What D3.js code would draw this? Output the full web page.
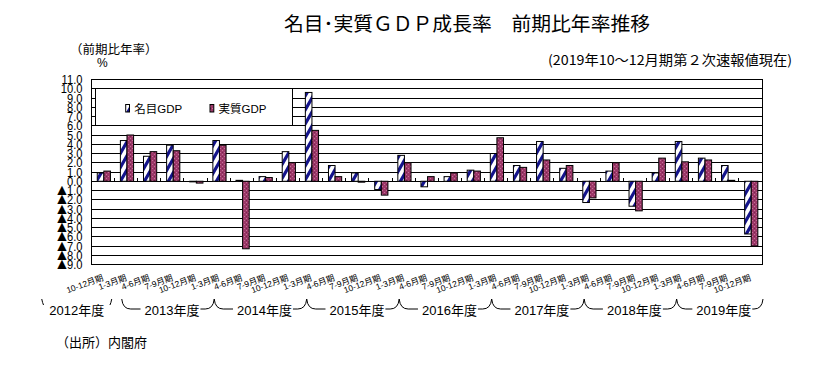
<!DOCTYPE html>
<html><head><meta charset="utf-8">
<script src="https://cdn.jsdelivr.net/npm/d3@7"></script>
<style>body{margin:0;background:#fff}svg{display:block}</style>
</head><body><svg id="c" width="828" height="366"></svg>
<script>
const quarters = ["10-12月期","1-3月期",
  "4-6月期","7-9月期","10-12月期","1-3月期",
  "4-6月期","7-9月期","10-12月期","1-3月期",
  "4-6月期","7-9月期","10-12月期","1-3月期",
  "4-6月期","7-9月期","10-12月期","1-3月期",
  "4-6月期","7-9月期","10-12月期","1-3月期",
  "4-6月期","7-9月期","10-12月期","1-3月期",
  "4-6月期","7-9月期","10-12月期"];
const nominalGDP = [0.9, 4.4, 2.7, 3.9, 0.0, 4.4, 0.1, 0.5, 3.2, 9.6,
  1.7, 0.9, -0.9, 2.8, -0.6, 0.5, 1.2, 3.0, 1.7, 4.3,
  1.4, -2.3, 1.1, -2.7, 0.9, 4.3, 2.5, 1.7, -5.7];
const realGDP = [1.1, 5.0, 3.2, 3.3, -0.2, 3.9, -7.3, 0.4, 2.0, 5.5,
  0.5, -0.1, -1.5, 2.0, 0.5, 0.9, 1.1, 4.7, 1.5, 2.3,
  1.7, -1.8, 2.0, -3.2, 2.5, 2.1, 2.3, 0.1, -7.0];
const yTicks = d3.range(11, -10, -1);
const fiscalYears = ["2012年度","2013年度","2014年度","2015年度","2016年度","2017年度","2018年度","2019年度"];
const fyStart = [0, 2, 6, 10, 14, 18, 22, 26];
const seriesNames = ["名目GDP","実質GDP"];
const titleText = "名目･実質ＧＤＰ成長率　前期比年率推移";
const noteText = "(2019年10～12月期第２次速報値現在)";
const unitText = "（前期比年率）";
const sourceText = "（出所）内閣府";

const svg = d3.select("#c");
const L = 91.5, R = 762, T = 79.5, B = 264.5;
const CJK = "'Noto Sans CJK JP', sans-serif";
const LAT = "'Liberation Sans', 'Noto Sans CJK JP', sans-serif";

const x = d3.scaleBand().domain(d3.range(quarters.length)).range([L, R]).paddingInner(0).paddingOuter(0);
const y = d3.scaleLinear().domain([-9, 11]).range([B, T]);
const step = x.step();

// patterns
const defs = svg.append("defs");
const pn = defs.append("pattern").attr("id","stripe").attr("patternUnits","userSpaceOnUse")
  .attr("width",8).attr("height",14);
pn.append("rect").attr("width",8).attr("height",14).attr("fill","#fff");
pn.append("path").attr("d","M0,14 L8,0 M-2,3.5 L2,-3.5 M6,17.5 L10,10.5")
  .attr("stroke","#14148c").attr("stroke-width",3.2);
const pr = defs.append("pattern").attr("id","speck").attr("patternUnits","userSpaceOnUse")
  .attr("width",4).attr("height",4);
pr.append("rect").attr("width",4).attr("height",4).attr("fill","#9c3868");
pr.append("rect").attr("x",0).attr("y",0).attr("width",1).attr("height",1).attr("fill","#c46f98");
pr.append("rect").attr("x",2).attr("y",2).attr("width",1).attr("height",1).attr("fill","#c46f98");
pr.append("rect").attr("x",2).attr("y",0).attr("width",1).attr("height",1).attr("fill","#7a2450");

// gridlines
svg.append("g").selectAll("line").data(yTicks).join("line")
  .attr("x1", L).attr("x2", R).attr("y1", d => y(d)).attr("y2", d => y(d))
  .attr("stroke", "#000").attr("stroke-width", 1).attr("shape-rendering","crispEdges");

// frame
svg.append("rect").attr("x", L).attr("y", T).attr("width", R - L).attr("height", B - T)
  .attr("fill","none").attr("stroke","#000").attr("shape-rendering","crispEdges");

// y labels
const yl = svg.append("g");
yTicks.forEach(v => {
  const t = yl.append("text").attr("transform", `translate(82.5,${y(v) + 4.6}) scale(0.86,1)`)
    .attr("text-anchor","end").attr("font-family", LAT).attr("font-size", 13).attr("fill","#000");
  if (v < 0) {
    t.append("tspan").attr("font-family", CJK).attr("font-size", 11.5).text("▲");
    t.append("tspan").text((-v).toFixed(1));
  } else {
    t.text(v.toFixed(1));
  }
});

// category ticks on zero line
svg.append("g").selectAll("line").data(d3.range(1, quarters.length)).join("line")
  .attr("x1", i => L + i * step).attr("x2", i => L + i * step)
  .attr("y1", y(0)).attr("y2", y(0) - 3).attr("stroke","#000").attr("shape-rendering","crispEdges");

// bars
const bw = 6.6;
const bars = svg.append("g");
function drawBars(vals, off, fill) {
  bars.append("g").selectAll("rect").data(vals).join("rect")
    .attr("x", (d, i) => x(i) + step / 2 + 0.8 + off)
    .attr("y", d => y(Math.max(0, d)))
    .attr("width", bw)
    .attr("height", d => Math.max(0.6, Math.abs(y(d) - y(0))))
    .attr("fill", fill).attr("stroke","#000").attr("stroke-width",1);
}
drawBars(nominalGDP, -bw, "url(#stripe)");
drawBars(realGDP, 0, "url(#speck)");

// legend
const lg = svg.append("g");
lg.append("rect").attr("x",95.5).attr("y",y(10)).attr("width",196.5).attr("height",y(6) - y(10))
  .attr("fill","#fff").attr("stroke","#000").attr("shape-rendering","crispEdges");
const lItems = [{x:125.7, fill:"url(#stripe)"}, {x:210, fill:"url(#speck)"}];
lItems.forEach((it, i) => {
  lg.append("rect").attr("x", it.x).attr("y", 104.5).attr("width", 3.8).attr("height", 7.5)
    .attr("fill", it.fill).attr("stroke","#000");
  lg.append("text").attr("x", it.x + 8.5).attr("y", 112.8).attr("font-family", LAT)
    .attr("font-size", 11.5).attr("fill","#000").text(seriesNames[i]);
});

// x labels
svg.append("g").selectAll("text").data(quarters).join("text")
  .attr("transform", (d, i) => `translate(${x(i) + step / 2 + 1},280) rotate(-20)`)
  .attr("text-anchor","end").attr("font-family", LAT).attr("font-size", 8.5).attr("fill","#000")
  .text(d => d);

// fiscal-year braces and labels
const fg = svg.append("g");
const yTop = 299, yBot = 309;
fiscalYears.forEach((fy, k) => {
  let x0, x1;
  if (k === 0) {
    x1 = L + fyStart[1] * step - 26;
    x0 = x1 - 70;
  } else {
    x0 = L + fyStart[k] * step - 16;
    x1 = Math.min(x0 + 4 * step, R + 1);
  }
  const cx = k === 0 ? (x0 + x1) / 2 : (x0 + x1) / 2 + 4;
  const t = fg.append("text").attr("x", cx).attr("y", 315).attr("text-anchor","middle")
    .attr("font-family", LAT).attr("font-size", 13).attr("fill","#000").text(fy);
  const w = t.node().getComputedTextLength();
  const tl = cx - w / 2, tr = cx + w / 2;
  let d;
  if (k === 0) {
    d = `M${x0},${yTop} Q${x0 + 0.8},${yTop + 4} ${x0 + 1.8},${yTop + 6} M${x1},${yTop} Q${x1 - 0.8},${yTop + 4} ${x1 - 1.8},${yTop + 6}`;
  } else {
    d = `M${x0},${yTop} Q${x0 + 1},${yBot} ${x0 + 9},${yBot} L${tl - 4},${yBot} M${tr + 1},${yBot} L${x1 - 9},${yBot} Q${x1 - 1},${yBot} ${x1},${yTop}`;
  }
  fg.append("path").attr("d", d).attr("fill","none").attr("stroke","#000").attr("stroke-width",1);
});

// titles and notes
svg.append("text").attr("x", 467).attr("y", 31).attr("text-anchor","middle")
  .attr("font-family", CJK).attr("font-size", 19.5).attr("textLength", 366).attr("lengthAdjust","spacingAndGlyphs")
  .attr("fill","#000").text(titleText);
svg.append("text").attr("x", 548).attr("y", 65)
  .attr("font-family", CJK).attr("font-size", 13.5).attr("textLength", 244).attr("lengthAdjust","spacingAndGlyphs")
  .attr("fill","#000").text(noteText);
svg.append("text").attr("x", 70).attr("y", 53.5)
  .attr("font-family", CJK).attr("font-size", 12.5).attr("fill","#000").text(unitText);
svg.append("text").attr("x", 97).attr("y", 66.5)
  .attr("font-family", LAT).attr("font-size", 12).attr("fill","#000").text("%");
svg.append("text").attr("x", 56).attr("y", 347)
  .attr("font-family", CJK).attr("font-size", 13).attr("fill","#000").text(sourceText);
</script></body></html>
